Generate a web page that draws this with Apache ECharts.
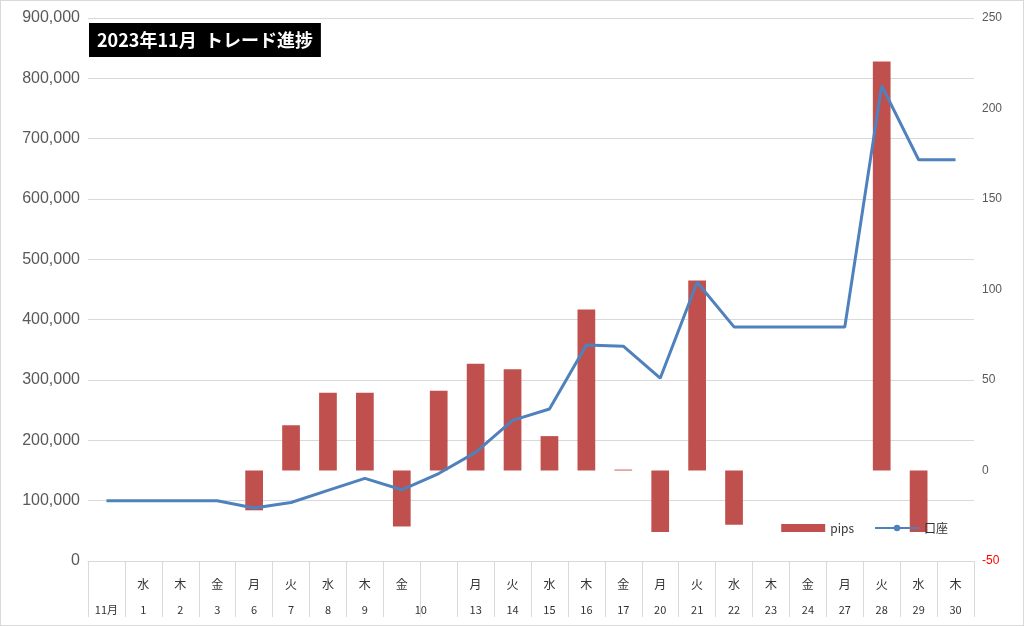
<!DOCTYPE html>
<html><head><meta charset="utf-8">
<script src="https://cdn.jsdelivr.net/npm/echarts@6/dist/echarts.min.js"></script>
<style>html,body{margin:0;padding:0;background:#fff}#c{width:1024px;height:626px;box-sizing:border-box;border:1px solid #d9d9d9}</style>
</head><body><div id="c"></div>
<script>
const weekdays=['','水','木','金','月','火','水','木','金','','月','火','水','木','金','月','火','水','木','金','月','火','水','木'];
const days=['11月','1','2','3','6','7','8','9','10','','13','14','15','16','17','20','21','22','23','24','27','28','29','30'];
const pips=[null,null,null,null,-22,25,43,43,-31,44,59,56,19,89,0.5,-34,105,-30,null,null,null,226,-34,null];
const account=[100000,100000,100000,100000,88000,97000,117000,137000,118000,145000,180000,233000,252000,358000,356000,303000,462000,388000,388000,388000,388000,788000,665000,665000];
const cats=weekdays.map((w,i)=>w+'|'+days[i]+'|'+i);
const chart=echarts.init(document.getElementById('c'));
chart.setOption({
  animation:false,
  title:{text:'2023年11月  トレード進捗',left:88,top:22,backgroundColor:'#000',padding:[8,8],
    textStyle:{color:'#fff',fontSize:18,fontWeight:'bold',fontFamily:'Noto Sans CJK JP'}},
  legend:{right:70,top:516,itemGap:20,textStyle:{fontSize:12,color:'#333',fontFamily:'Noto Sans CJK JP'},
    data:[{name:'pips',icon:'rect'},{name:'口座'}],itemWidth:44,itemHeight:8},
  grid:{left:87,right:49,top:17,bottom:64},
  xAxis:{type:'category',data:cats,
    axisLine:{lineStyle:{color:'#d9d9d9'}},
    axisTick:{show:true,length:56,lineStyle:{color:'#d9d9d9'}},
    axisLabel:{interval:0,margin:10,formatter:v=>{const p=v.split('|');const k=p[2]==='8'?'s':'d';return '{w|'+p[0]+'}\n'+'{'+k+'|'+p[1]+'}';},
      rich:{w:{fontSize:12,color:'#333',height:26,fontFamily:'Noto Sans CJK JP'},d:{fontSize:11,color:'#333',height:26,fontFamily:'Noto Sans CJK JP'},s:{fontSize:11,color:'#333',height:26,padding:[0,0,0,38],fontFamily:'Noto Sans CJK JP'}}}},
  yAxis:[
    {type:'value',min:0,max:900000,interval:100000,
      axisLabel:{fontSize:16,color:'#595959',formatter:v=>v.toLocaleString('en-US'),fontFamily:'Liberation Sans'},
      splitLine:{lineStyle:{color:'#d9d9d9'}},axisLine:{show:false},axisTick:{show:false}},
    {type:'value',min:-50,max:250,interval:50,
      axisLabel:{fontSize:12,formatter:v=>String(v),color:v=>v<0?'#ff0000':'#595959',fontFamily:'Liberation Sans'},
      splitLine:{show:false},axisLine:{show:false},axisTick:{show:false}}
  ],
  series:[
    {name:'pips',type:'bar',yAxisIndex:1,data:pips,barWidth:'48%',itemStyle:{color:'#c0504d'}},
    {name:'口座',type:'line',yAxisIndex:0,data:account,symbol:'none',lineStyle:{color:'#4f81bd',width:3},itemStyle:{color:'#4f81bd'}}
  ]
});
</script></body></html>
